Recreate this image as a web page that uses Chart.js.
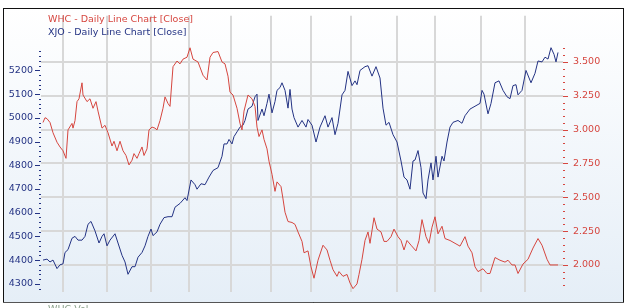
<!DOCTYPE html>
<html>
<head>
<meta charset="utf-8">
<script src="https://cdn.jsdelivr.net/npm/chart.js@4.4.1/dist/chart.umd.min.js"></script>
<style>
  html, body { margin: 0; padding: 0; background: #fff; }
</style>
</head>
<body>
<canvas id="chart" width="630" height="308"></canvas>
<script>
// trading day index (0 = first day shown)
const whcDays = [
  0, 1, 2, 3.5, 5, 7, 8.5, 10, 11.5, 12.5,
  14.5, 15, 16, 17, 18, 19.5, 20, 22, 23.5, 25,
  26.5, 27.5, 29.5, 31, 32.5, 34.5, 35.5, 37, 38.5, 40,
  41.5, 43, 44.5, 45.5, 47, 48, 49.5, 50.5, 52, 53,
  54.5, 56, 57, 58.5, 60, 61, 62.5, 63.5, 65, 67,
  68.5, 70, 72, 73.5, 75, 77.5, 80, 82, 83.5, 85,
  87.5, 89.5, 91, 92.5, 93.5, 95, 97, 98.5, 99.5, 100.5,
  102.5, 104.5, 106, 107, 108, 109.5, 110.5, 112, 113, 114.5,
  116, 117, 119, 120, 121, 122.5, 124.5, 126, 127.5, 129.5,
  130.5, 132.5, 134, 135.5, 137.5, 140, 142, 143.5, 145, 147,
  148, 150, 152, 153.5, 155, 157, 158, 159.5, 161, 162.5,
  163.5, 165.5, 167, 169, 170.5, 172, 174, 175.5, 177.5, 179,
  180.5, 182, 184, 186.5, 188, 189.5, 191.5, 193, 194.5, 196,
  197.5, 199.5, 201, 203.5, 206, 208.5, 211, 212.5, 214.5, 216,
  217.5, 220, 222, 223.5, 226, 228.5, 231, 232.5, 234.5, 236,
  237.5, 240, 242.5, 245, 247.5, 249.5, 252, 253.5, 255, 257.5
];
const whcClose = [
  3.053, 3.088, 3.081, 3.053, 2.977, 2.907, 2.872, 2.844, 2.788, 2.998,
  3.046, 3.011, 3.067, 3.207, 3.228, 3.346, 3.256, 3.207, 3.228, 3.158,
  3.207, 3.137, 3.011, 3.032, 2.977, 2.879, 2.914, 2.844, 2.914, 2.844,
  2.809, 2.739, 2.774, 2.823, 2.788, 2.823, 2.872, 2.809, 2.858, 2.998,
  3.019, 3.011, 2.998, 3.067, 3.158, 3.242, 3.193, 3.172, 3.465, 3.507,
  3.486, 3.521, 3.535, 3.605, 3.521, 3.500, 3.402, 3.367, 3.535, 3.570,
  3.577, 3.500, 3.486, 3.395, 3.277, 3.256, 3.158, 3.046, 2.998, 3.137,
  3.256, 3.228, 3.172, 3.019, 2.949, 2.998, 2.928, 2.858, 2.767, 2.670,
  2.544, 2.614, 2.579, 2.488, 2.390, 2.321, 2.314, 2.300, 2.244, 2.174,
  2.090, 2.104, 1.986, 1.902, 2.035, 2.146, 2.111, 2.035, 1.965, 1.916,
  1.951, 1.916, 1.930, 1.867, 1.825, 1.860, 1.930, 2.042, 2.181, 2.244,
  2.160, 2.349, 2.265, 2.244, 2.174, 2.174, 2.209, 2.265, 2.209, 2.181,
  2.111, 2.181, 2.146, 2.104, 2.181, 2.335, 2.209, 2.160, 2.279, 2.356,
  2.230, 2.286, 2.195, 2.181, 2.160, 2.139, 2.209, 2.139, 2.090, 1.986,
  1.951, 1.972, 1.937, 1.937, 2.055, 2.035, 2.021, 2.035, 2.000, 2.000,
  1.937, 2.007, 2.042, 2.125, 2.195, 2.146, 2.042, 2.000, 2.000, 2.000
];

const xjoDays = [
  0, 2, 3.5, 5, 7, 8.5, 10, 11, 12.5, 14.5,
  16, 17.5, 19.5, 21, 22.5, 24, 26, 28, 29.5, 30.5,
  32, 33.5, 36, 37.5, 39.5, 41, 42.5, 44.5, 46, 47.5,
  49.5, 51, 52.5, 54, 55, 57, 58.5, 60.5, 62.5, 64.5,
  66, 68.5, 71, 72, 74, 76, 77, 79, 81, 83,
  85, 87.5, 89.5, 90.5, 92, 93, 94.5, 95.5, 97, 98.5,
  100, 101, 102.5, 104.5, 106, 107, 107.5, 109.5, 110.5, 112,
  113, 114.5, 116, 117, 118.5, 119.5, 121, 122.5, 123.5, 124.5,
  125.5, 127.5, 129.5, 131.5, 132.5, 134.5, 136.5, 138.5, 141, 142.5,
  144.5, 146, 147.5, 149.5, 151, 152.5, 154.5, 156, 157, 158.5,
  161, 162.5, 164.5, 166.5, 168.5, 170, 171.5, 173, 175, 177,
  179, 180.5, 182, 183.5, 185, 186, 187.5, 189, 190, 191.5,
  192.5, 194, 195, 196.5, 197.5, 199.5, 200.5, 202, 203.5, 205,
  207.5, 209.5, 211, 213.5, 216, 218.5, 219.5, 220.5, 222, 222.5,
  224, 226, 228, 230, 232, 233.5, 235, 236.5, 237.5, 239.5,
  241.5, 244, 246, 247.5, 249.5, 251, 252.5, 254, 255.5, 256.5,
  257.5
];
const xjoClose = [
  4400, 4404, 4392, 4400, 4364, 4380, 4384, 4432, 4444, 4492,
  4500, 4484, 4484, 4500, 4551, 4563, 4523, 4472, 4500, 4511,
  4460, 4484, 4511, 4472, 4420, 4392, 4340, 4372, 4372, 4412,
  4432, 4460, 4500, 4531, 4503, 4519, 4551, 4579, 4583, 4583,
  4623, 4639, 4663, 4651, 4738, 4718, 4699, 4722, 4718, 4750,
  4778, 4790, 4838, 4890, 4890, 4909, 4890, 4921, 4941, 4961,
  4969, 4989, 5037, 5049, 5089, 5100, 4989, 5037, 5009, 5061,
  5100, 5021, 5069, 5116, 5128, 5148, 5116, 5041, 5120, 5037,
  5001, 4961, 4989, 4961, 4993, 4969, 4898, 4961, 5009, 4961,
  5001, 4929, 4977, 5097, 5116, 5196, 5136, 5156, 5140, 5200,
  5216, 5220, 5176, 5216, 5168, 5041, 4969, 4981, 4929, 4898,
  4818, 4750, 4738, 4699, 4818, 4822, 4862, 4790, 4683, 4659,
  4738, 4810, 4738, 4838, 4750, 4838, 4818, 4898, 4961, 4981,
  4989, 4977, 5009, 5037, 5049, 5061, 5116, 5100, 5037, 5017,
  5061, 5148, 5156, 5116, 5089, 5081, 5136, 5140, 5097, 5116,
  5200, 5148, 5188, 5240, 5236, 5256, 5248, 5296, 5268, 5236,
  5276
];

// first trading day of each month (vertical grid)
const monthDays = [10, 32, 54, 73, 94, 114, 134, 154, 177, 196, 219, 241];
const xjoTicks = [4300, 4400, 4500, 4600, 4700, 4800, 4900, 5000, 5100, 5200];
const whcTicks = [2.0, 2.25, 2.5, 2.75, 3.0, 3.25, 3.5];

const RED = '#d6463f';
const NAVY = '#243384';

Chart.defaults.font.family = '"DejaVu Sans", Verdana, sans-serif';
Chart.defaults.font.size = 9.5;

const frame = {
  id: 'frame',
  beforeDraw(chart) {
    const c = chart.ctx;
    c.save();
    c.fillStyle = '#fff';
    c.fillRect(0, 0, chart.width, chart.height);
    const g = c.createLinearGradient(0, 8, 0, 302);
    g.addColorStop(0, '#ffffff');
    g.addColorStop(1, '#e5eef7');
    c.fillStyle = g;
    c.fillRect(3, 8, 621, 294);
    c.restore();
  },
  afterDraw(chart) {
    const c = chart.ctx;
    const yl = chart.scales.y, yr = chart.scales.y1;
    c.save();
    // minor / major tick marks
    c.lineWidth = 1;
    c.strokeStyle = NAVY;
    for (let v = 4280; v <= 5280; v += 20) {
      const py = Math.round(yl.getPixelForValue(v)) + 0.5;
      c.beginPath();
      if (v % 100 === 0) { c.moveTo(35, py); c.lineTo(40, py); }
      else { c.moveTo(39, py); c.lineTo(41, py); }
      c.stroke();
    }
    c.strokeStyle = RED;
    for (let k = 37; k <= 72; k++) {
      const v = k * 0.05;
      const py = Math.round(yr.getPixelForValue(v)) + 0.5;
      c.beginPath();
      if (k % 5 === 0 && v >= 1.99) { c.moveTo(563, py); c.lineTo(568, py); }
      else { c.moveTo(563, py); c.lineTo(565, py); }
      c.stroke();
    }
    // legend
    c.font = '9.5px "DejaVu Sans", Verdana, sans-serif';
    c.textBaseline = 'middle';
    c.textAlign = 'left';
    c.fillStyle = RED;
    c.fillText('WHC - Daily Line Chart [Close]', 48, 20);
    c.fillStyle = NAVY;
    c.fillText('XJO - Daily Line Chart [Close]', 48, 33);
    // next panel caption, mostly cut off
    c.fillStyle = '#8aa08a';
    c.textBaseline = 'top';
    c.fillText('WHC Vol', 48, 305);
    // frame
    c.strokeStyle = '#111';
    c.lineWidth = 1;
    c.strokeRect(3.5, 8.5, 620, 294);
    c.strokeStyle = '#555';
    c.beginPath();
    c.moveTo(3, 302.5); c.lineTo(624, 302.5);
    c.stroke();
    c.restore();
  }
};

new Chart(document.getElementById('chart'), {
  type: 'line',
  data: {
    datasets: [
      {
        label: 'WHC - Daily Line Chart [Close]',
        data: whcDays.map((d, i) => ({ x: d, y: whcClose[i] })),
        borderColor: RED,
        borderWidth: 1,
        pointRadius: 0,
        tension: 0,
        yAxisID: 'y1'
      },
      {
        label: 'XJO - Daily Line Chart [Close]',
        data: xjoDays.map((d, i) => ({ x: d, y: xjoClose[i] })),
        borderColor: NAVY,
        borderWidth: 1,
        pointRadius: 0,
        tension: 0,
        yAxisID: 'y'
      }
    ]
  },
  options: {
    responsive: false,
    animation: false,
    layout: { padding: { left: 3, right: 6, top: 9, bottom: 6 } },
    plugins: {
      legend: { display: false },
      tooltip: { enabled: false }
    },
    scales: {
      x: {
        type: 'linear',
        min: -1,
        max: 260,
        afterBuildTicks: s => { s.ticks = monthDays.map(v => ({ value: v })); },
        afterFit: s => { s.height = 0; },
        ticks: { display: false },
        border: { display: false },
        grid: { color: '#d8d8d8', lineWidth: 2, drawTicks: false }
      },
      y: {
        position: 'left',
        min: 4264,
        max: 5431,
        afterBuildTicks: s => { s.ticks = xjoTicks.map(v => ({ value: v })); },
        afterFit: s => { s.width = 38; },
        border: { display: false },
        grid: { drawOnChartArea: false, drawTicks: false },
        ticks: { color: NAVY, padding: 8, callback: v => String(v) }
      },
      y1: {
        position: 'right',
        min: 1.798,
        max: 3.842,
        afterBuildTicks: s => { s.ticks = whcTicks.map(v => ({ value: v })); },
        afterFit: s => { s.width = 61; },
        border: { display: false },
        grid: { color: '#d8d8d8', lineWidth: 2, drawTicks: false },
        ticks: {
          color: RED,
          padding: 10,
          callback: v => v.toFixed(3)
        }
      }
    }
  },
  plugins: [frame]
});
</script>
</body>
</html>
